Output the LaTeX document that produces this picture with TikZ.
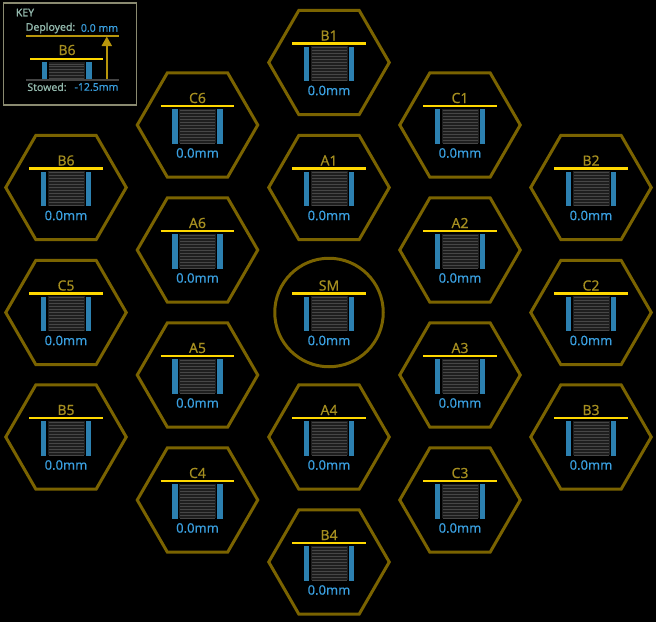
\documentclass[tikz,border=0pt]{standalone}
\usepackage{fontspec}
\setmainfont[FakeBold=0.25]{Noto Sans}
\newfontfamily\keyhead[FakeBold=1.2]{Noto Sans}
\usetikzlibrary{shapes.geometric,arrows.meta}
\definecolor{hexc}{HTML}{7A6300}
\definecolor{barc}{HTML}{FFD800}
\definecolor{lblc}{HTML}{A58E20}
\definecolor{bluec}{HTML}{2C80B0}
\definecolor{valc}{HTML}{3A9FDF}
\definecolor{darkc}{HTML}{1E1E1E}
\definecolor{linec}{HTML}{464646}
\definecolor{keyc}{HTML}{8A8A70}
\definecolor{keytxt}{HTML}{92B8AC}
\definecolor{arrowc}{HTML}{B8960C}
\definecolor{basec}{HTML}{444444}
\tikzset{
  x=1pt,y=-1pt,
  seglabel/.style={text=lblc,font=\fontsize{14}{14}\selectfont,inner sep=0pt,anchor=center},
  segval/.style={text=valc,font=\fontsize{13}{13}\selectfont,inner sep=0pt,anchor=center},
  keylabel/.style={text=keytxt,font=\fontsize{10.5}{10.5}\selectfont,inner sep=0pt},
  keyval/.style={text=valc,font=\fontsize{10.5}{10.5}\selectfont,inner sep=0pt},
  outline/.style={draw=hexc,line width=3pt},
  hexcell/.style={outline,regular polygon,regular polygon sides=6,minimum size=120.5pt,inner sep=0pt,outer sep=0pt},
  stack/.pic={
    \fill[darkc] (-18.5,-16.5) rectangle (18.5,18);
    \foreach \k in {0,...,11}{\draw[linec,line width=1pt] (-17.5,-15+\k*3) -- (17.5,-15+\k*3);}
    \fill[bluec] (-25.5,-16) rectangle (-19.7,18.5);
    \fill[bluec] (19.5,-16) rectangle (25.3,18.5);
    \draw[barc,line width=2.6pt] (-37,-19) -- (36.5,-19);
  }
}
\newcommand{\hexseg}[3]{%
  \node[hexcell] (#1) at (#2,#3) {};
  \pic at (#2,#3) {stack};
  \node[seglabel] (#1l) at (#2,#3-27) {#1};
  \node[segval] (#1v) at (#2,#3+28) {0.0mm};
}
\begin{document}
\begin{tikzpicture}
\useasboundingbox (0,0) rectangle (656,622);
\fill[black] (0,0) rectangle (656,622);
\hexseg{B1}{329}{62.5}
\hexseg{A1}{329}{187.5}
\hexseg{A4}{329}{437}
\hexseg{B4}{329}{562}
\hexseg{C6}{197.5}{125}
\hexseg{A6}{197.5}{250}
\hexseg{A5}{197.5}{375}
\hexseg{C4}{197.5}{500}
\hexseg{C1}{460}{125}
\hexseg{A2}{460}{250}
\hexseg{A3}{460}{375}
\hexseg{C3}{460}{500}
\hexseg{B6}{66}{187.5}
\hexseg{C5}{66}{312.5}
\hexseg{B5}{66}{437}
\hexseg{B2}{591}{187.5}
\hexseg{C2}{591}{312.5}
\hexseg{B3}{591}{437}
% secondary mirror
\node[circle,outline,minimum size=108.5pt,inner sep=0pt,outer sep=0pt] (SMc) at (329,312.5) {};
\pic at (329,312.5) {stack};
\node[seglabel] (SMl) at (329,285.5) {SM};
\node[segval] (SMv) at (329,340.5) {0.0mm};
% key
\node[draw=keyc,line width=1.5pt,fill=black,minimum width=133pt,minimum height=102pt,inner sep=0pt,outer sep=0pt] (keybox) at (70,54) {};
\node[keylabel,anchor=center,font=\fontsize{10.5}{10.5}\keyhead] (keytitle) at (25,12.5) {KEY};
\node[keylabel,anchor=center,font=\fontsize{10.5}{10.5}\keyhead] (keydep) at (50.5,28) {Deployed:};
\node[keyval,anchor=center] (keydepv) at (99.5,28) {0.0 mm};
\draw[arrowc,line width=1.8pt] (26,35.7) -- (119,35.7);
\node[seglabel] (keyB) at (67,50) {B6};
\draw[barc,line width=2pt] (30,59.3) -- (103,59.3);
\fill[darkc] (48.7,62) rectangle (84.7,79);
\foreach \k in {0,...,5}{\draw[linec,line width=.8pt] (49,64+\k*2.8) -- (84.3,64+\k*2.8);}
\fill[bluec] (41.7,62) rectangle (47.3,79.3);
\fill[bluec] (86,62) rectangle (91.7,79.3);
\draw[basec,line width=1.8pt] (26,80) -- (119,80);
\node[keylabel,anchor=center] (keysto) at (47,87) {Stowed:};
\node[keyval,anchor=center] (keystov) at (96.5,87) {-12.5mm};
\coordinate (arrb) at (106.8,79);
\coordinate (arrt) at (106.8,36.5);
\draw[arrowc,line width=2pt,-{Triangle[length=9.5pt,width=10pt]}] (arrb) -- (arrt);
\end{tikzpicture}
\end{document}
